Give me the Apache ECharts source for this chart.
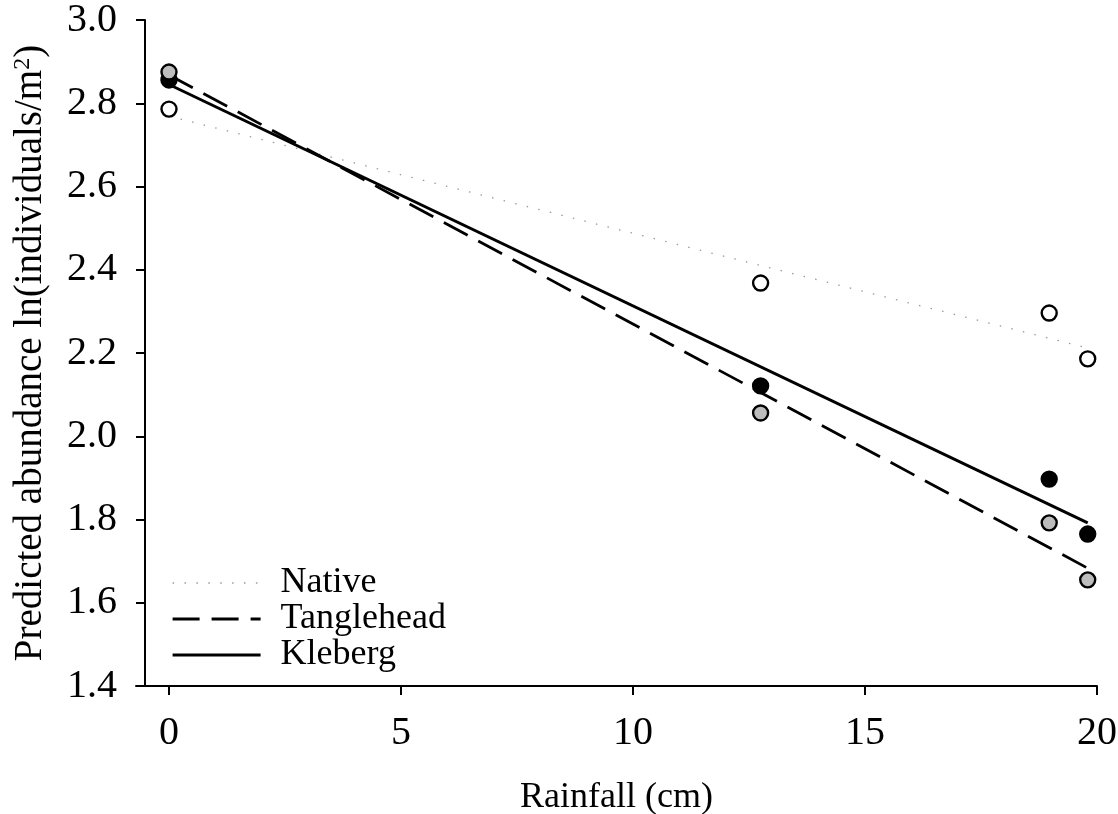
<!DOCTYPE html>
<html>
<head>
<meta charset="utf-8">
<script src="https://cdn.jsdelivr.net/npm/echarts@6/dist/echarts.min.js"></script>
<style>
html,body{margin:0;padding:0;background:#fff;}
#chart{width:1118px;height:814px;}
</style>
</head>
<body>
<div id="chart"></div>
<script>
// ---- data ----
const pointX = [0, 12.75, 18.97, 19.8];
const nativePts = [2.786, 2.368, 2.296, 2.186];
const tangleheadPts = [2.875, 2.056, 1.792, 1.655];
const klebergPts = [2.856, 2.121, 1.897, 1.765];

const fitX = [0, 19.8];
const nativeFit = [2.769, 2.212];
const tangleheadFit = [2.868, 1.683];
const klebergFit = [2.845, 1.792];

const xTicks = [0, 5, 10, 15, 20];
const seriesNames = ['Native', 'Tanglehead', 'Kleberg'];

const pairs = (xs, ys) => xs.map((x, i) => [x, ys[i]]);
const FONT = "'Liberation Serif', 'Times New Roman', serif";

const chart = echarts.init(document.getElementById('chart'), null, {renderer: 'canvas'});
chart.setOption({
  animation: false,
  backgroundColor: '#ffffff',
  grid: {left: 136, right: 21, top: 20, bottom: 128, containLabel: false, outerBoundsMode: 'none'},
  legend: {
    data: [
      {name: seriesNames[0], lineStyle: {width: 1.3}},
      {name: seriesNames[1], lineStyle: {width: 3}},
      {name: seriesNames[2], lineStyle: {width: 3.2}}
    ],
    orient: 'vertical',
    left: 166,
    top: 560,
    itemWidth: 88,
    itemHeight: 14,
    itemGap: 0,
    itemStyle: {opacity: 0},
    textStyle: {fontFamily: FONT, fontSize: 36, color: '#000', lineHeight: 36, padding: [0, 0, 0, 15]}
  },
  xAxis: {
    type: 'value',
    min: -0.711,
    max: 20,
    name: 'Rainfall (cm)',
    nameLocation: 'middle',
    nameGap: 94,
    nameTextStyle: {fontFamily: FONT, fontSize: 36, color: '#000'},
    axisLine: {show: true, onZero: false, lineStyle: {color: '#000', width: 2}},
    axisTick: {show: true, length: 9, lineStyle: {color: '#000', width: 2}, customValues: xTicks},
    axisLabel: {fontFamily: FONT, fontSize: 40, color: '#000', margin: 27, customValues: xTicks},
    splitLine: {show: false}
  },
  yAxis: {
    type: 'value',
    min: 1.4,
    max: 3.0,
    interval: 0.2,
    offset: -9,
    name: 'Predicted abundance ln(individuals/m{sup|2})',
    nameLocation: 'middle',
    nameGap: 95,
    nameTextStyle: {
      fontFamily: FONT, fontSize: 39, color: '#000',
      rich: {sup: {fontFamily: FONT, fontSize: 24, color: '#000', verticalAlign: 'top', lineHeight: 39}}
    },
    axisLine: {show: true, onZero: false, lineStyle: {color: '#000', width: 2}},
    axisTick: {show: true, length: 9, lineStyle: {color: '#000', width: 2}},
    axisLabel: {fontFamily: FONT, fontSize: 40, color: '#000', margin: 28, formatter: v => v.toFixed(1)},
    splitLine: {show: false}
  },
  series: [
    {
      name: seriesNames[0], type: 'line', data: pairs(fitX, nativeFit), symbol: 'none', z: 2,
      lineStyle: {color: '#9a9a9a', width: 1.3, type: [1.5, 10.4]}, itemStyle: {color: '#9a9a9a'}
    },
    {
      name: seriesNames[1], type: 'line', data: pairs(fitX, tangleheadFit), symbol: 'none', z: 3,
      lineStyle: {color: '#000', width: 2.8, type: [27, 12]}, itemStyle: {color: '#000'}
    },
    {
      name: seriesNames[2], type: 'line', data: pairs(fitX, klebergFit), symbol: 'none', z: 3,
      lineStyle: {color: '#000', width: 3}, itemStyle: {color: '#000'}
    },
    {
      name: 'Native points', type: 'scatter', data: pairs(pointX, nativePts), symbol: 'circle', symbolSize: 15, z: 4,
      itemStyle: {color: '#ffffff', borderColor: '#000', borderWidth: 2.4, opacity: 1}
    },
    {
      name: 'Kleberg points', type: 'scatter', data: pairs(pointX, klebergPts), symbol: 'circle', symbolSize: 15, z: 4,
      itemStyle: {color: '#000000', borderColor: '#000', borderWidth: 2.4, opacity: 1}
    },
    {
      name: 'Tanglehead points', type: 'scatter', data: pairs(pointX, tangleheadPts), symbol: 'circle', symbolSize: 15, z: 5,
      itemStyle: {color: '#bdbdbd', borderColor: '#000', borderWidth: 2.4, opacity: 1}
    }
  ]
});
</script>
</body>
</html>
